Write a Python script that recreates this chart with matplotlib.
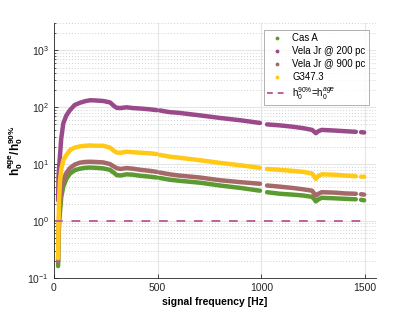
import numpy as np
import matplotlib
matplotlib.use("Agg")
import matplotlib.pyplot as plt
from matplotlib.lines import Line2D

plt.rcParams['font.family'] = ['Liberation Sans', 'DejaVu Sans']
plt.rcParams['mathtext.fontset'] = 'custom'
plt.rcParams['mathtext.rm'] = 'Liberation Sans'
plt.rcParams['mathtext.it'] = 'Liberation Sans:italic'
plt.rcParams['mathtext.bf'] = 'Liberation Sans:bold'

nan = np.nan
freq = [20, 22, 25, 29, 35, 45, 60, 77, 100, 125, 150, 174, 200, 238, 270, 290,
        302, 320, 350, 381, 420, 463, 495, 500, 510, 559, 600, 704, 800, 900,
        993, 1010, 1027, 1090, 1150, 1200, 1244, 1255, 1262, 1275, 1290, 1350,
        1400, 1455, 1468, 1480, 1495]

cas_a = [0.16, 0.4, 1.0, 1.4, 2.6, 4.0, 5.5, 6.8, 7.8, 8.3, 8.6, 8.7, 8.6, 8.4,
         7.9, 7.0, 6.4, 6.3, 6.6, 6.5, 6.2, 6.0, 5.8, nan, 5.7, 5.3, 5.1, 4.7,
         4.2, 3.8, 3.4, nan, 3.2, 3.0, 2.9, 2.8, 2.65, 2.4, 2.2, 2.4, 2.55, 2.5,
         2.45, 2.4, nan, 2.35, 2.3]

vela_200 = [2.3, 6, 9, 14, 28, 52, 72, 89, 110, 120, 128, 133, 132, 129, 122,
            105, 98, 97, 100, 97, 95, 92, 89, nan, 88, 82, 80, 72, 65, 59, 53,
            nan, 50, 48, 45.5, 43, 40, 37, 35, 38, 40, 39, 38, 37, nan, 36.5, 36]

vela_900 = [0.19, 0.5, 1.2, 2.0, 3.5, 5.2, 7.0, 8.5, 9.8, 10.6, 10.9, 11.0, 10.9,
            10.7, 10.0, 9.0, 8.5, 8.2, 8.5, 8.3, 7.9, 7.6, 7.3, nan, 7.1, 6.6,
            6.3, 5.8, 5.2, 4.8, 4.5, nan, 4.2, 4.0, 3.8, 3.6, 3.4, 3.0, 2.8, 3.0,
            3.2, 3.15, 3.05, 3.0, nan, 2.95, 2.9]

g347 = [0.22, 0.8, 2.5, 5, 8, 11.7, 14.5, 17.6, 19.5, 20.5, 21, 21.3, 21, 21,
        19.5, 17, 16, 15.8, 16.5, 16.2, 15.8, 15.5, 15, nan, 14.5, 13.5, 13,
        11.7, 10.5, 9.5, 8.6, nan, 8.2, 7.9, 7.6, 7.3, 6.8, 6.0, 5.5, 6.2, 6.6,
        6.5, 6.3, 6.1, nan, 6.0, 6.0]

labels = ['Cas A', 'Vela Jr @ 200 pc', 'Vela Jr @ 900 pc', 'G347.3']
colors = ['#5c9a32', '#9a4a8a', '#a5696a', '#ffc916']
series = [cas_a, vela_200, vela_900, g347]

ref_x = [0, 1500]
ref_y = [1, 1]

fig = plt.figure(figsize=(4.15, 3.12), dpi=100)
ax = fig.add_axes([0.13, 0.11, 0.775, 0.815])

for vals, c in zip(series, colors):
    ax.plot(freq, vals, '-', color=c, lw=3.2, solid_capstyle='round',
            solid_joinstyle='round')
ax.plot(ref_x, ref_y, '--', color='#c0609a', lw=1.4, dashes=(4.5, 4.5))

ax.set_yscale('log')
ax.set_ylim(0.1, 3000)
ax.set_xlim(0, 1550)
ax.set_xticks([0, 500, 1000, 1500])

ax.grid(True, which='major', color='#e6e6e6', lw=0.8, ls='-')
ax.grid(True, which='minor', axis='y', color='#d0d0d0', lw=0.7, ls=(0, (1, 2)))
ax.set_axisbelow(True)

for s in ['top', 'right']:
    ax.spines[s].set_visible(False)
for s in ['left', 'bottom']:
    ax.spines[s].set_color('#262626')
    ax.spines[s].set_linewidth(0.6)

ax.tick_params(which='both', direction='in', labelsize=7.5, colors='#262626')
ax.tick_params(which='major', length=3, width=0.6)
ax.tick_params(which='minor', length=1.5, width=0.5)
ax.tick_params(axis='x', which='minor', bottom=False)

ax.set_xlabel('signal frequency [Hz]', fontsize=7.5, fontweight='bold', labelpad=3)
ax.set_ylabel(r'$\mathbf{h_0^{age}/h_0^{90\%}}$', fontsize=8.5, labelpad=2)

handles = [Line2D([], [], marker='.', ls='none', color=c, markersize=3.5)
           for c in colors]
handles.append(Line2D([], [], ls='--', color='#c0609a', lw=1.4, dashes=(3, 2.5)))
leg_labels = labels + [r'h$_0^{90\%}$=h$_0^{age}$']
leg = ax.legend(handles, leg_labels, loc='upper right', fontsize=6.9,
                frameon=True, fancybox=False, edgecolor='#8c8c8c',
                borderaxespad=0.7, handlelength=2.0, labelspacing=0.3,
                borderpad=0.35, handletextpad=0.6)
leg.get_frame().set_linewidth(0.6)

fig.savefig('out.png', dpi=100)
